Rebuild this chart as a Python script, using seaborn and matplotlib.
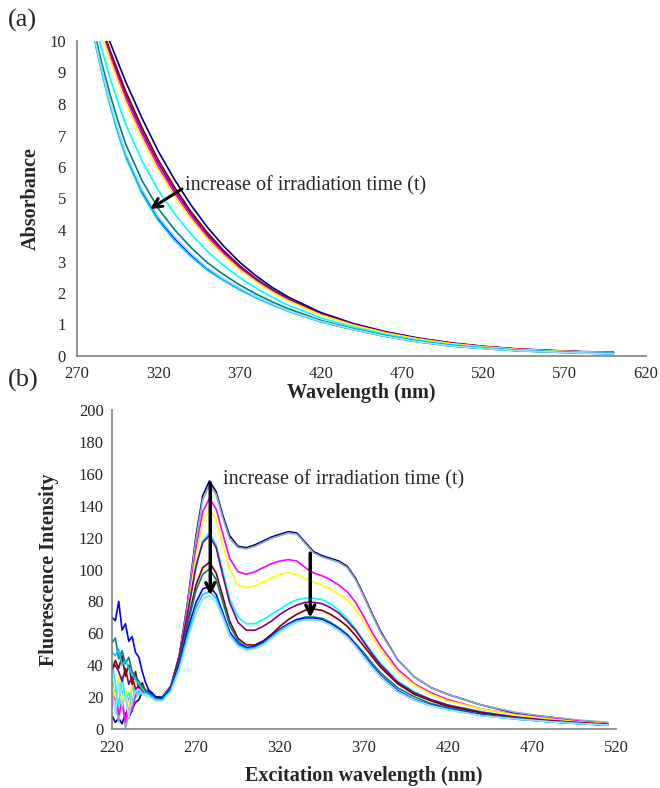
import matplotlib
matplotlib.use("Agg")
import matplotlib.pyplot as plt
import pandas as pd
import seaborn as sns

# ---------------- (a) Absorbance ----------------
wl_a = [280, 285, 290, 295, 300, 310, 320, 330, 340, 350, 360, 370, 380, 390, 400,
        420, 440, 460, 480, 500, 520, 540, 560, 580, 600]
a_navy = [11.5, 10.7, 10.0, 9.35, 8.7, 7.55, 6.5, 5.6, 4.8, 4.1, 3.5, 2.98, 2.55, 2.18, 1.87,
          1.38, 1.03, 0.77, 0.57, 0.42, 0.31, 0.23, 0.18, 0.14, 0.12]
a_maroon = [11.34, 10.49, 9.75, 9.07, 8.40, 7.25, 6.22, 5.36, 4.59, 3.93, 3.36, 2.87, 2.46, 2.11, 1.81,
            1.34, 1.005, 0.75, 0.554, 0.407, 0.30, 0.222, 0.173, 0.134, 0.114]
a_purple = [11.28, 10.41, 9.65, 8.96, 8.28, 7.13, 6.11, 5.26, 4.51, 3.86, 3.31, 2.83, 2.43, 2.08, 1.79,
            1.33, 1.0, 0.743, 0.548, 0.402, 0.297, 0.219, 0.171, 0.132, 0.112]
a_magenta = [11.21, 10.33, 9.56, 8.85, 8.16, 7.01, 6.01, 5.17, 4.43, 3.79, 3.25, 2.78, 2.39, 2.06, 1.77,
             1.31, 0.986, 0.735, 0.542, 0.397, 0.294, 0.216, 0.168, 0.13, 0.11]
a_yellow = [11.15, 10.25, 9.46, 8.74, 8.05, 6.90, 5.90, 5.08, 4.35, 3.73, 3.20, 2.74, 2.36, 2.03, 1.75,
            1.30, 0.977, 0.728, 0.536, 0.392, 0.29, 0.213, 0.166, 0.127, 0.107]
a_cyan = [10.78, 9.77, 8.88, 8.09, 7.35, 6.20, 5.26, 4.52, 3.88, 3.33, 2.88, 2.49, 2.16, 1.87, 1.61,
          1.21, 0.92, 0.683, 0.50, 0.362, 0.269, 0.195, 0.151, 0.114, 0.094]
a_teal = [10.44, 9.34, 8.36, 7.5, 6.72, 5.57, 4.68, 4.01, 3.45, 2.97, 2.59, 2.26, 1.97, 1.72, 1.50,
          1.13, 0.868, 0.643, 0.468, 0.335, 0.25, 0.179, 0.138, 0.102, 0.082]
a_blue = [10.25, 9.1, 8.07, 7.17, 6.37, 5.22, 4.36, 3.73, 3.21, 2.77, 2.43, 2.13, 1.87, 1.64, 1.43,
          1.09, 0.84, 0.62, 0.45, 0.32, 0.24, 0.17, 0.13, 0.095, 0.075]
a_sky = [10.21, 9.05, 8.01, 7.1, 6.30, 5.15, 4.30, 3.67, 3.16, 2.73, 2.40, 2.10, 1.85, 1.62, 1.42,
         1.08, 0.834, 0.616, 0.446, 0.317, 0.238, 0.168, 0.128, 0.094, 0.074]
a_light = [10.29, 9.15, 8.13, 7.24, 6.44, 5.29, 4.42, 3.79, 3.26, 2.81, 2.46, 2.16, 1.89, 1.66, 1.44,
           1.10, 0.846, 0.624, 0.454, 0.323, 0.242, 0.172, 0.132, 0.096, 0.076]

# ---------------- (b) Fluorescence ----------------
wl_b = [220, 222, 224, 226, 228, 230, 232, 234, 236, 238, 240, 242, 244, 246,
        250, 255, 260, 265, 270, 274, 278, 282, 286, 290, 295, 300, 305, 310, 315, 320,
        325, 330, 335, 340, 345, 350, 355, 360, 365, 370, 375, 380, 390, 400, 410, 420,
        440, 460, 480, 500, 515]
f_navy = [8.4, 4.2, 6.7, 3.3, 10, 6.7, 12.5, 16.7, 18.4, 23.4, 22.6, 24.2, 21.7, 20.1,
          20, 26.8, 46, 79.4, 121.2, 146.3, 155.5, 148.8, 133.8, 121.2, 114.5, 113.7, 115.4, 117.9, 120.4, 122.1,
          123.7, 122.9, 117, 111.2, 108.7, 107, 105.3, 102, 94.5, 83.6, 71.9, 61, 43.5, 32.6, 25.9, 21.7,
          15, 10, 7.5, 5, 3.8]
f_steel = [32, 18, 4.2, 24, 0, 9, 28, 20, 22, 26, 23.4, 22.6, 20.9, 19.2,
           19.2, 25.9, 44.3, 77.7, 118.7, 143.8, 153, 147.1, 132.1, 119.5, 113.7, 112.9, 114.5, 117, 119.5, 121.2,
           122.9, 122.1, 116.2, 110.4, 107.8, 106.2, 104.5, 101.2, 93.6, 82.8, 71.1, 60.2, 43.5, 32.6, 25.9, 21.7,
           15, 10.5, 7.5, 5.4, 4.2]
f_magenta = [14, 24, 9, 17, 4.2, 19, 11, 22, 24, 22.6, 24.2, 23.4, 20.9, 19.2,
             20.1, 26.8, 45.1, 75.2, 112.9, 136.3, 144.6, 137.9, 122.1, 107, 98.6, 97, 98.6, 101.2, 103.7, 105.3,
             106.2, 105.3, 101.2, 97.8, 96.1, 93.6, 90.3, 86.1, 79.4, 70.2, 60.2, 51.8, 37.6, 28.4, 22.6, 18.4,
             12.5, 9.2, 6.7, 4.6, 3.3]
f_yellow = [28, 20, 33, 18, 26, 14, 28, 30, 26, 24, 25.1, 24.2, 21.7, 20.1,
            20.1, 26.8, 44.3, 73.6, 108.7, 130.4, 137.9, 131.3, 115.4, 100.3, 90.3, 88.6, 89.5, 92, 94.5, 97,
            97.8, 97, 94.5, 92, 90.3, 87.8, 84.4, 81.1, 75.2, 66.9, 57.7, 49.3, 35.9, 27.6, 21.7, 17.6,
            12.5, 8.8, 6.3, 4.2, 3.3]
f_cyan = [43, 28, 14, 33, 18, 23, 16, 25, 22, 22, 22.6, 21.7, 20.1, 18.4,
          19.2, 25.9, 43.5, 71.1, 102, 117.9, 122.9, 115.4, 98.6, 81.9, 70.2, 66, 66, 68.6, 71.9, 75.2,
          78.6, 81.1, 81.9, 81.9, 81.1, 78.6, 74.4, 69.4, 62.7, 55.2, 47.7, 41, 30.1, 23.4, 18.4, 15,
          10.9, 7.5, 5.4, 3.8, 2.9]
f_purple = [38, 40, 36, 30, 38, 28, 33, 25, 27, 24, 24.2, 22.6, 20.9, 19.2,
            20.1, 26.8, 45.1, 72.7, 102, 117, 121.2, 113.7, 96.1, 79.4, 66.9, 61.9, 61.9, 64.4, 67.7, 71.9,
            75.2, 77.7, 79.4, 79.4, 78.6, 76.1, 72.7, 67.7, 61.9, 54.3, 46.8, 40.1, 29.3, 22.6, 18.4, 15,
            10.5, 7.5, 5.4, 3.8, 2.9]
f_maroon = [37, 43, 38, 46, 33, 40, 28, 36, 25, 29, 23.4, 24.2, 21.7, 20.1,
            20.1, 25.9, 42.6, 66.9, 90.3, 101.2, 104.5, 97.8, 82.8, 67.7, 56.8, 52.7, 52.7, 55.2, 59.4, 64.4,
            68.6, 71.9, 74.4, 75.2, 74.4, 71.9, 68.6, 64.4, 58.5, 51.8, 45.1, 38.5, 28.4, 21.7, 17.6, 14.2,
            10, 7.1, 5, 3.8, 2.9]
f_teal = [54, 57, 44, 49, 41, 45, 36, 33, 30, 26, 24.2, 22.6, 20.9, 19.2,
          20.1, 25.9, 41.8, 65.2, 86.9, 97, 100.3, 93.6, 79.4, 65.2, 55.2, 51, 51, 53.5, 57.7, 61.9,
          65.2, 68.6, 70.2, 70.2, 69.4, 66.9, 63.5, 59.4, 53.5, 47.7, 41, 35.1, 25.9, 20.1, 15.9, 13.4,
          9.2, 6.7, 4.6, 3.3, 2.5]
f_blue = [70, 68, 80, 62, 66, 55, 58, 48, 45, 36, 29, 24, 22.6, 20.1,
          19.2, 25.1, 40.1, 61.9, 79.4, 87.8, 89.5, 84.4, 72.7, 61, 53.5, 51, 51.8, 54.3, 58.5, 62.7,
          66, 68.6, 69.4, 69.4, 68.6, 66, 62.7, 58.5, 52.7, 46, 39.3, 33.4, 24.2, 18.4, 15, 12.5,
          8.8, 6.3, 4.6, 3.3, 2.5]
f_sky = [48, 46, 50, 40, 43, 38, 34, 31, 28, 25, 22.6, 21.7, 20.1, 18.4,
         18.4, 24.2, 38.5, 58.5, 76.1, 84.4, 86.1, 81.9, 71.1, 59.4, 52.7, 50.2, 51, 53.5, 57.7, 61.9,
         65.2, 67.7, 68.6, 68.6, 67.7, 65.2, 61.9, 57.7, 51.8, 45.1, 38.5, 32.6, 23.4, 18, 14.6, 12.1,
         8.4, 6.3, 4.6, 3.3, 2.5]
f_light = [24, 9, 29, 14, 21, 7, 19, 23, 25, 22, 20.9, 20.1, 19.2, 17.6,
           17.6, 23.4, 36.8, 56, 72.7, 81.1, 83.6, 79.4, 69.4, 58.5, 51.8, 49.3, 50.2, 52.7, 56.8, 61,
           64.4, 66.9, 68.6, 68.6, 67.7, 65.2, 61.9, 57.7, 51.8, 45.1, 38.5, 32.6, 23.4, 18, 14.6, 12.1,
           8.4, 6.3, 4.6, 3.3, 2.5]

colors = {
    "navy": "#000080", "steel": "#8FAAC4", "maroon": "#800000", "purple": "#800080",
    "magenta": "#FF00FF", "yellow": "#FFFF00", "cyan": "#00FFFF", "teal": "#008080",
    "blue": "#0000FF", "sky": "#00CCFF", "light": "#99DDFF",
}

series_a = [("navy", a_navy), ("maroon", a_maroon), ("purple", a_purple), ("magenta", a_magenta),
            ("yellow", a_yellow), ("cyan", a_cyan), ("teal", a_teal), ("blue", a_blue),
            ("sky", a_sky), ("light", a_light)]
series_b = [("navy", f_navy), ("steel", f_steel), ("magenta", f_magenta), ("yellow", f_yellow),
            ("cyan", f_cyan), ("purple", f_purple), ("maroon", f_maroon), ("teal", f_teal),
            ("blue", f_blue), ("sky", f_sky), ("light", f_light)]

df_a = pd.concat([pd.DataFrame({"wl": wl_a, "val": v, "s": n}) for n, v in series_a], ignore_index=True)
df_b = pd.concat([pd.DataFrame({"wl": wl_b, "val": v, "s": n}) for n, v in series_b], ignore_index=True)

sns.set_style("white")
plt.rcParams["font.family"] = ["Liberation Serif", "DejaVu Serif"]

fig = plt.figure(figsize=(6.6, 7.88), dpi=100)
W, H = 660, 788
ax1 = fig.add_axes([77 / W, 1 - 356 / H, (646 - 77) / W, 315 / H])
ax2 = fig.add_axes([112 / W, 1 - 729 / H, (616 - 112) / W, 319 / H])

sns.lineplot(data=df_a, x="wl", y="val", hue="s", palette=colors, hue_order=[n for n, _ in series_a],
             estimator=None, sort=False, legend=False, linewidth=1.2, ax=ax1)
sns.lineplot(data=df_b, x="wl", y="val", hue="s", palette=colors, hue_order=[n for n, _ in series_b],
             estimator=None, sort=False, legend=False, linewidth=1.2, ax=ax2)

tick_fs = 12
for ax in (ax1, ax2):
    for side in ("top", "right"):
        ax.spines[side].set_visible(False)
    for side in ("left", "bottom"):
        ax.spines[side].set_color("#808080")
        ax.spines[side].set_linewidth(1.2)
    ax.tick_params(axis="both", direction="out", length=3, width=1, color="#808080",
                   labelsize=tick_fs, pad=3)
    ax.grid(False)

ax1.set_xlim(270, 620)
ax1.set_ylim(0, 10)
ax1.set_xticks(range(270, 621, 50))
ax1.set_yticks(range(0, 11, 1))
ax1.tick_params(axis="x", pad=4)
ax1.tick_params(axis="y", pad=5)
ax1.set_xlabel("Wavelength (nm)", fontsize=14.5, fontweight="bold", labelpad=1)
ax1.set_ylabel("Absorbance", fontsize=14.5, fontweight="bold", labelpad=6)

ax2.set_xlim(220, 520)
ax2.set_ylim(0, 200)
ax2.set_xticks(range(220, 521, 50))
ax2.set_yticks(range(0, 201, 20))
ax2.tick_params(axis="x", pad=5)
ax2.set_xlabel("Excitation wavelength (nm)", fontsize=14.5, fontweight="bold", labelpad=7)
ax2.set_ylabel("Fluorescence Intensity", fontsize=14.5, fontweight="bold", labelpad=14)

# annotations
ax1.annotate("", xy=(313.5, 4.62), xytext=(336, 5.35),
             arrowprops=dict(arrowstyle="->", lw=2.2, color="black", mutation_scale=16))
ax1.text(336.5, 5.4, "increase of irradiation time (t)", fontsize=14.5, va="center", ha="left")

ax2.annotate("", xy=(278.5, 82), xytext=(278.5, 156),
             arrowprops=dict(arrowstyle="->", lw=2.5, color="black", mutation_scale=16))
ax2.annotate("", xy=(338, 68), xytext=(338, 112),
             arrowprops=dict(arrowstyle="->", lw=2.5, color="black", mutation_scale=16))
ax2.text(286, 156, "increase of irradiation time (t)", fontsize=14.5, va="center", ha="left")

fig.text(8 / W, 1 - 20 / H, "(a)", fontsize=19, va="center", ha="left")
fig.text(8 / W, 1 - 380 / H, "(b)", fontsize=19, va="center", ha="left")

fig.savefig("out.png", dpi=100)
